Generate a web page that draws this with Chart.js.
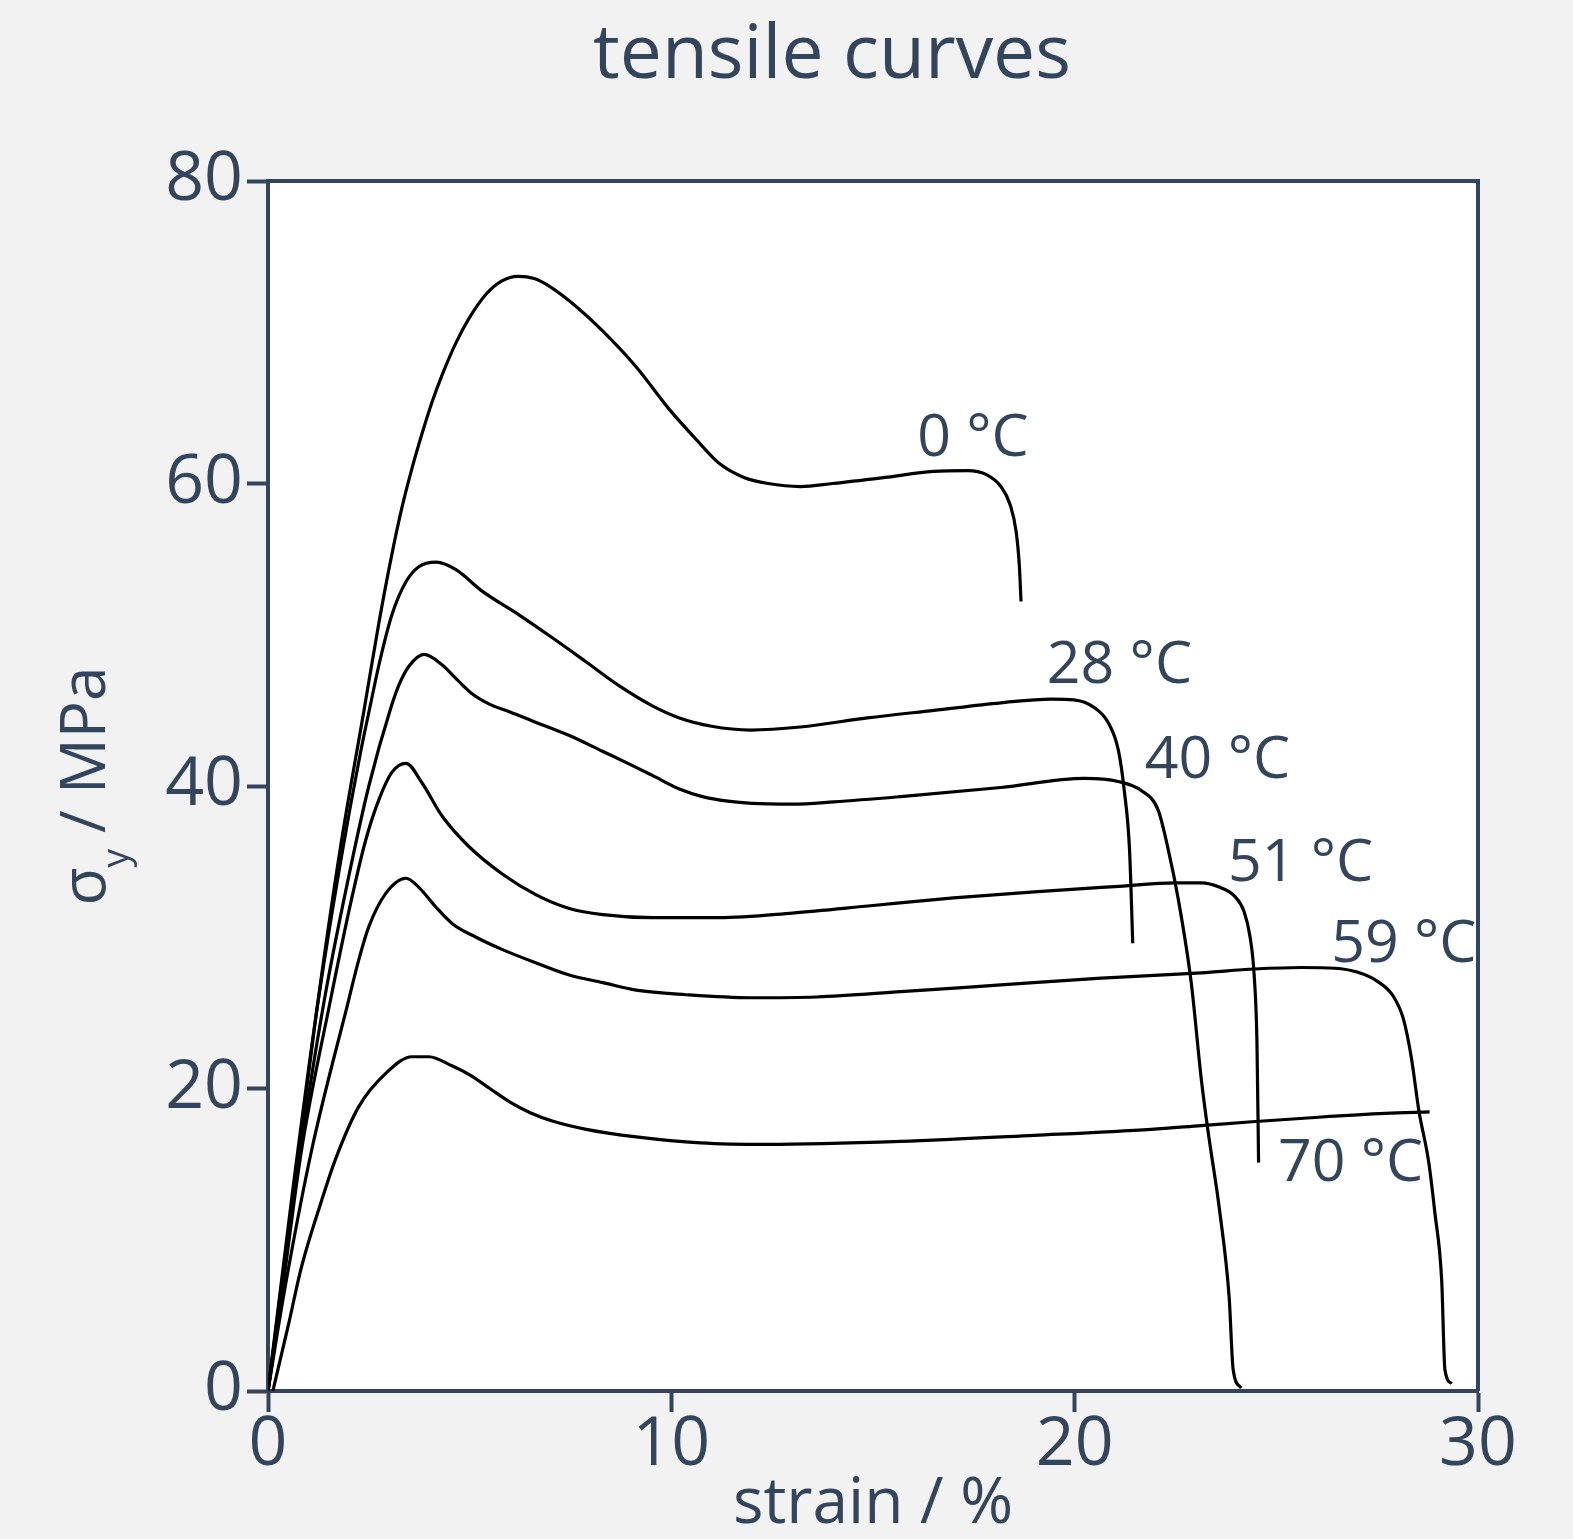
<!DOCTYPE html>
<html>
<head>
<meta charset="utf-8">
<title>tensile curves</title>
<script src="https://cdn.jsdelivr.net/npm/chart.js@4.4.0/dist/chart.umd.min.js"></script>
<style>
  html, body { margin: 0; padding: 0; background: #f2f2f2; }
  #wrap { width: 1573px; height: 1539px; }
</style>
</head>
<body>
<div id="wrap"><canvas id="chart" width="1573" height="1539"></canvas></div>
<script>
// --- stress-strain data (strain %, stress MPa) ---
const curve0C = [
  [0, 0], [0.6, 12.5], [1.2, 25], [1.8, 36], [2.38, 45], [2.75, 50.8], [3.07, 55.3],
  [3.32, 58.4], [3.57, 61.0], [3.82, 63.3], [4.07, 65.4], [4.32, 67.2], [4.66, 69.3],
  [4.98, 70.9], [5.4, 72.5], [5.8, 73.4], [6.2, 73.7], [6.6, 73.55], [7.0, 73.0],
  [7.64, 71.7], [8.29, 70.1], [9.13, 67.7], [9.95, 64.9], [10.62, 62.9], [11.2, 61.3],
  [11.8, 60.4], [12.4, 60.0], [13.2, 59.8], [14.0, 60.0], [15.3, 60.4], [16.5, 60.8],
  [17.35, 60.85], [17.8, 60.6], [18.17, 59.8], [18.4, 58.6], [18.55, 56.8], [18.63, 54.5],
  [18.67, 52.2]
];
const curve28C = [
  [0, 0], [0.6, 13], [1.2, 25], [1.8, 35], [2.3, 42.3], [2.55, 45.5], [2.75, 48],
  [3.07, 51.3], [3.42, 53.5], [3.74, 54.5], [4.17, 54.8], [4.66, 54.3], [5.3, 52.9],
  [6.23, 51.3], [7.05, 49.8], [7.89, 48.2], [8.72, 46.6], [9.53, 45.3], [10.2, 44.5],
  [11.0, 43.95], [11.96, 43.7], [13.2, 43.9], [14.86, 44.5], [16.51, 45.0], [18.17, 45.5],
  [19.42, 45.75], [19.98, 45.7], [20.48, 45.2], [20.83, 44.2], [21.08, 42.4],
  [21.23, 39.7], [21.36, 35.8], [21.44, 29.6]
];
const curve40C = [
  [0, 0], [0.4, 8], [0.8, 15.9], [1.4, 25.9], [2.0, 34], [2.5, 40], [3.05, 45.2],
  [3.25, 46.7], [3.49, 47.9], [3.87, 48.7], [4.32, 48.0], [4.7, 47.0], [5.06, 46.1],
  [5.5, 45.4], [6.0, 44.9], [6.65, 44.2], [7.5, 43.3], [8.29, 42.3], [9.0, 41.4],
  [9.53, 40.7], [10.2, 39.8], [10.77, 39.3], [11.4, 39.0], [12.0, 38.85], [13.0, 38.8],
  [14.03, 38.95], [15.69, 39.3], [18.17, 39.9], [20.24, 40.5], [21.08, 40.3], [21.65, 39.7],
  [22.07, 38.4], [22.32, 35.8], [22.57, 32.5], [22.89, 27.0], [23.14, 20.6], [23.3, 17.3],
  [23.6, 11.8], [23.83, 6.2], [23.93, 1.4], [24.13, 0.2]
];
const curve51C = [
  [0, 0], [0.3, 5.5], [0.83, 15.9], [1.55, 25.85], [2.07, 32.5], [2.42, 36.4], [2.75, 39.1],
  [3.07, 40.9], [3.42, 41.5], [3.82, 40.2], [4.32, 38.0], [4.98, 36.0], [5.8, 34.2],
  [6.65, 32.8], [7.47, 31.9], [8.3, 31.5], [9.53, 31.3], [11.19, 31.3], [13.0, 31.6],
  [15.0, 32.1], [17.0, 32.6], [19.0, 33.0], [21.0, 33.35], [22.5, 33.6], [23.14, 33.6],
  [23.6, 33.3], [23.97, 32.7], [24.2, 31.7], [24.35, 30.0], [24.45, 27.5], [24.52, 23.0],
  [24.56, 15.1]
];
const curve59C = [
  [0, 0], [0.4, 6.5], [1.08, 15.9], [2.0, 25.85], [2.25, 28.5], [2.5, 30.7], [2.92, 32.9],
  [3.42, 33.9], [3.74, 33.3], [4.16, 32.0], [4.57, 30.9], [5.16, 30.0], [5.8, 29.2],
  [6.65, 28.3], [7.47, 27.5], [8.3, 27.0], [9.13, 26.5], [10.37, 26.2], [11.96, 26.0],
  [13.6, 26.05], [15.69, 26.4], [18.17, 26.85], [20.66, 27.3], [23.14, 27.65], [24.46, 27.9],
  [25.63, 28.0], [26.45, 27.95], [27.0, 27.7], [27.5, 27.1], [27.9, 26.1], [28.15, 24.6],
  [28.35, 22.0], [28.53, 18.6], [28.78, 15.1], [28.93, 11.8], [29.1, 7.3], [29.18, 1.4],
  [29.35, 0.5]
];
const curve70C = [
  [0.12, 0], [0.5, 4.3], [0.83, 8.2], [1.33, 12.6], [1.67, 15.3], [2.25, 18.8], [2.92, 21.0],
  [3.57, 22.1], [3.99, 22.1], [4.56, 21.5], [5.0, 20.9], [5.5, 20.0], [6.0, 19.1],
  [6.5, 18.4], [7.05, 17.85], [7.89, 17.3], [9.13, 16.8], [10.72, 16.4], [12.38, 16.3],
  [15.69, 16.5], [19.0, 16.9], [21.9, 17.3], [23.14, 17.55], [24.4, 17.8], [26.05, 18.1],
  [27.7, 18.35], [28.8, 18.45]
];

const curves = [curve0C, curve28C, curve40C, curve51C, curve59C, curve70C];
const temperatures = ['0 °C', '28 °C', '40 °C', '51 °C', '59 °C', '70 °C'];
// where each temperature tag sits (strain, stress)
const labelAnchors = [[17.48, 62.9], [21.11, 47.9], [23.54, 41.65], [25.6, 34.8], [28.16, 29.5], [26.84, 15.0]];

const xTicks = [0, 10, 20, 30];
const yTicks = [0, 20, 40, 60, 80];

const INK = '#33455d';
const FONT = '"Open Sans", "Noto Sans", sans-serif';

// canvas background, white plot area, closing frame and heading
const plotFrame = {
  id: 'plotFrame',
  beforeDraw(chart) {
    const { ctx, chartArea: a } = chart;
    ctx.save();
    ctx.fillStyle = '#f2f2f2';
    ctx.fillRect(0, 0, chart.width, chart.height);
    ctx.fillStyle = '#ffffff';
    ctx.fillRect(a.left, a.top, a.right - a.left, a.bottom - a.top);
    ctx.restore();
  },
  afterDraw(chart) {
    const { ctx, chartArea: a } = chart;
    ctx.save();
    ctx.strokeStyle = INK;
    ctx.lineWidth = 4;
    ctx.beginPath();
    ctx.moveTo(a.left, a.top);
    ctx.lineTo(a.right, a.top);
    ctx.lineTo(a.right, a.bottom);
    ctx.stroke();

    ctx.fillStyle = INK;
    ctx.font = `75px ${FONT}`;
    ctx.textAlign = 'center';
    ctx.textBaseline = 'middle';
    ctx.fillText('tensile curves', 832, 57);
    ctx.restore();
  }
};

// rotated y-axis title with subscript
const yTitle = {
  id: 'yTitle',
  afterDraw(chart) {
    const { ctx, chartArea } = chart;
    const main = `62px ${FONT}`;
    const sub = `37px ${FONT}`;
    ctx.save();
    ctx.fillStyle = INK;
    ctx.font = main;
    const wSigma = ctx.measureText('σ').width;
    const wRest = ctx.measureText(' / MPa').width;
    ctx.font = sub;
    const wSub = ctx.measureText('y').width;
    const total = wSigma + wSub + wRest;
    ctx.translate(105, (chartArea.top + chartArea.bottom) / 2);
    ctx.rotate(-Math.PI / 2);
    ctx.textBaseline = 'alphabetic';
    ctx.textAlign = 'left';
    let x = -total / 2;
    ctx.font = main;
    ctx.fillText('σ', x, 0);
    x += wSigma;
    ctx.font = sub;
    ctx.fillText('y', x, 23);
    x += wSub;
    ctx.font = main;
    ctx.fillText(' / MPa', x, 0);
    ctx.restore();
  }
};

// temperature tags next to each curve
const tempLabels = {
  id: 'tempLabels',
  afterDatasetsDraw(chart) {
    const { ctx, scales } = chart;
    ctx.save();
    ctx.font = `59px ${FONT}`;
    ctx.fillStyle = INK;
    ctx.textAlign = 'center';
    ctx.textBaseline = 'middle';
    temperatures.forEach((t, i) => {
      const [lx, ly] = labelAnchors[i];
      ctx.fillText(t, scales.x.getPixelForValue(lx), scales.y.getPixelForValue(ly));
    });
    ctx.restore();
  }
};

const axisGrid = {
  display: true,
  drawOnChartArea: false,
  drawTicks: true,
  tickLength: 21,
  tickWidth: 4,
  tickColor: INK,
};

const chart = new Chart(document.getElementById('chart'), {
  type: 'line',
  data: {
    datasets: curves.map((pts, i) => ({
      label: temperatures[i],
      data: pts.map(([x, y]) => ({ x, y })),
      borderColor: '#000000',
      borderWidth: 3.2,
      pointRadius: 0,
      cubicInterpolationMode: 'monotone',
      fill: false,
    })),
  },
  options: {
    responsive: false,
    animation: false,
    layout: { padding: { left: 0, right: 95, top: 181, bottom: 0 } },
    scales: {
      x: {
        type: 'linear',
        min: 0,
        max: 30,
        afterBuildTicks: (s) => { s.ticks = xTicks.map((v) => ({ value: v })); },
        afterFit: (s) => { s.height = 148; },
        ticks: { color: INK, font: { family: FONT, size: 68, lineHeight: 1 }, padding: 0, maxRotation: 0 },
        grid: axisGrid,
        border: { display: true, color: INK, width: 4 },
        title: {
          display: true,
          text: 'strain / %',
          color: INK,
          font: { family: FONT, size: 64, lineHeight: 1 },
          padding: { top: 0, bottom: 2 },
        },
      },
      y: {
        type: 'linear',
        min: 0,
        max: 80,
        afterBuildTicks: (s) => { s.ticks = yTicks.map((v) => ({ value: v })); },
        afterFit: (s) => { s.width = 268; },
        ticks: { color: INK, font: { family: FONT, size: 68, lineHeight: 1 }, padding: 4 },
        grid: axisGrid,
        border: { display: true, color: INK, width: 4 },
      },
    },
    plugins: {
      legend: { display: false },
      tooltip: { enabled: false },
      title: { display: false },
    },
  },
  plugins: [plotFrame, tempLabels, yTitle],
});
</script>
</body>
</html>
